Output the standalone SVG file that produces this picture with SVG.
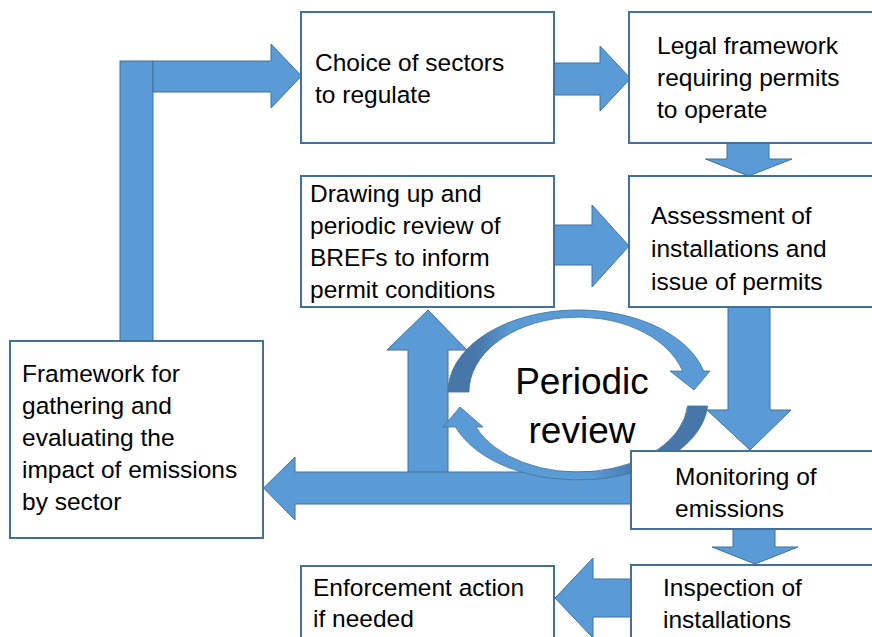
<svg xmlns="http://www.w3.org/2000/svg" width="872" height="637" viewBox="0 0 872 637">
<defs>
<style>
.box{fill:#ffffff;stroke:#41719C;stroke-width:2}
.arr{fill:#5B9BD5;stroke:#41719C;stroke-width:1}
.t{font-family:"Liberation Sans",Arial,sans-serif;font-size:24.5px;fill:#000000}
.big{font-family:"Liberation Sans",Arial,sans-serif;font-size:37px;fill:#000000;text-anchor:middle}
</style>
<linearGradient id="gTop" gradientUnits="userSpaceOnUse" x1="448" y1="0" x2="540" y2="0">
<stop offset="0" stop-color="#4677A8"/>
<stop offset="0.3" stop-color="#4677A8"/>
<stop offset="0.7" stop-color="#5B9BD5"/>
</linearGradient>
<linearGradient id="gBot" gradientUnits="userSpaceOnUse" x1="708" y1="0" x2="560" y2="0">
<stop offset="0" stop-color="#4677A8"/>
<stop offset="0.45" stop-color="#4677A8"/>
<stop offset="0.8" stop-color="#5B9BD5"/>
</linearGradient>
</defs>
<g id="connectors">
<rect class="arr" x="120" y="61" width="33" height="281"/>
<path class="arr" d="M153,61 L271,61 L271,44 L301.5,76 L271,108 L271,92 L153,92 Z"/>
<path class="arr" d="M554,63 L600,63 L600,46 L630.5,78.5 L600,111 L600,95 L554,95 Z"/>
<path class="arr" d="M727,143 L769,143 L769,159 L792,159 L748.5,176 L705.5,159 L727,159 Z"/>
<path class="arr" d="M554,225 L592,225 L592,205 L629,246 L592,287 L592,265 L554,265 Z"/>
<path class="arr" d="M728,307 L770,307 L770,410 L791,410 L750,450 L707,410 L728,410 Z"/>
<path class="arr" d="M408,473 L408,350 L387,350 L428,310 L467,350 L448,350 L448,473 Z"/>
<path class="arr" d="M631,472 L295,472 L295,457 L263.5,488 L295,520 L295,504 L631,504 Z"/>
<path class="arr" d="M733,529 L775,529 L775,547 L798,547 L755,564 L712,547 L733,547 Z"/>
<path class="arr" d="M631,579 L593,579 L593,558 L555,598 L593,638 L593,617 L631,617 Z"/>
<path fill="url(#gTop)" stroke="#41719C" stroke-width="0.8" d="M448,392 A130 82 0 0 1 703.7,371 L710,371 L694,390 L670,371 L682.6,371 A109 75 0 0 0 469,392 Z"/>
<path fill="url(#gBot)" stroke="#41719C" stroke-width="0.8" d="M707.6,406 A130 80 0 0 1 455.6,427 L443,427 L460,407 L483,427 L476,427 A110 72 0 0 0 687.6,406 Z"/>
</g>
<g id="choice">
<rect class="box" x="301" y="12" width="253" height="131"/>
<text class="t" x="315" y="71">Choice of sectors</text>
<text class="t" x="315" y="103">to regulate</text>
</g>
<g id="legal">
<rect class="box" x="629" y="12" width="260" height="131"/>
<text class="t" x="657" y="54">Legal framework</text>
<text class="t" x="657" y="86">requiring permits</text>
<text class="t" x="657" y="118">to operate</text>
</g>
<g id="brefs">
<rect class="box" x="301" y="176" width="253" height="131"/>
<text class="t" x="310" y="202">Drawing up and</text>
<text class="t" x="310" y="234">periodic review of</text>
<text class="t" x="310" y="266">BREFs to inform</text>
<text class="t" x="310" y="298">permit conditions</text>
</g>
<g id="assessment">
<rect class="box" x="629" y="176" width="260" height="131"/>
<text class="t" x="651" y="224">Assessment of</text>
<text class="t" x="651" y="257">installations and</text>
<text class="t" x="651" y="290">issue of permits</text>
</g>
<g id="framework">
<rect class="box" x="10" y="341" width="253" height="197"/>
<text class="t" x="22" y="382">Framework for</text>
<text class="t" x="22" y="414">gathering and</text>
<text class="t" x="22" y="446">evaluating the</text>
<text class="t" x="22" y="478">impact of emissions</text>
<text class="t" x="22" y="510">by sector</text>
</g>
<g id="periodic">
<text class="big" x="582" y="394">Periodic</text>
<text class="big" x="582" y="443">review</text>
</g>
<g id="monitoring">
<rect class="box" x="631" y="451" width="260" height="78"/>
<text class="t" x="675" y="485">Monitoring of</text>
<text class="t" x="675" y="517">emissions</text>
</g>
<g id="inspection">
<rect class="box" x="631" y="565" width="260" height="90"/>
<text class="t" x="663" y="596">Inspection of</text>
<text class="t" x="663" y="628">installations</text>
</g>
<g id="enforcement">
<rect class="box" x="301" y="566" width="253" height="90"/>
<text class="t" x="313" y="596">Enforcement action</text>
<text class="t" x="313" y="627">if needed</text>
</g>
</svg>
